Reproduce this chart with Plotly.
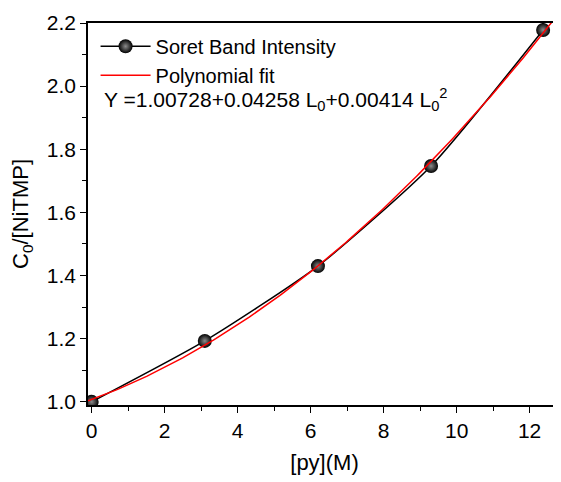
import numpy as np
import plotly.graph_objects as go

# Data
py_conc = [0.0, 3.1, 6.2, 9.3, 12.37]
soret_ratio = [1.0, 1.193, 1.43, 1.747, 2.178]

# Polynomial fit coefficients (as printed on the chart)
fit_a0, fit_a1, fit_a2 = 1.00728, 0.04258, 0.00414
fit_x = np.linspace(-0.1, 12.8, 200)
fit_y = fit_a0 + fit_a1 * fit_x + fit_a2 * fit_x ** 2

x_ticks = [0, 2, 4, 6, 8, 10, 12]
y_ticks = [1.0, 1.2, 1.4, 1.6, 1.8, 2.0, 2.2]
y_tick_text = ["1.0", "1.2", "1.4", "1.6", "1.8", "2.0", "2.2"]

FONT = "Liberation Sans, Arial, sans-serif"

fig = go.Figure()
fig.add_trace(go.Scatter(
    x=py_conc, y=soret_ratio, mode="lines+markers", name="Soret Band Intensity",
    line=dict(color="black", width=1.5, shape="spline", smoothing=0.6),
    marker=dict(size=14, color="black", gradient=dict(type="radial", color="#8c8c8c"),
                line=dict(width=0)),
))
fig.add_trace(go.Scatter(
    x=fit_x, y=fit_y, mode="lines", name="Polynomial fit",
    line=dict(color="red", width=1.5),
))

fig.add_annotation(
    text="Y =1.00728+0.04258 L<sub>0</sub>+0.00414 L<sub>0</sub><sup>2</sup>",
    xref="paper", yref="paper", x=0.03, y=0.8, xanchor="left", yanchor="middle",
    showarrow=False, font=dict(family=FONT, size=21, color="black"),
)

# page body adds an 8px offset, so the figure is 8px smaller than the window
fig.update_layout(
    width=553, height=474,
    margin=dict(l=80, r=0, t=15, b=77, autoexpand=False),
    paper_bgcolor="white", plot_bgcolor="white",
    font=dict(family=FONT, size=21, color="black"),
    showlegend=True,
    legend=dict(x=0.016, y=0.99, xanchor="left", yanchor="top",
                bgcolor="rgba(0,0,0,0)", font=dict(size=20), tracegroupgap=0,
                itemwidth=50),
    xaxis=dict(
        range=[-0.1, 12.86], tickmode="array", tickvals=x_ticks, automargin=False,
        ticks="outside", ticklen=6, tickwidth=1.2, tickcolor="black",
        minor=dict(ticks="outside", ticklen=4, dtick=1, tickcolor="black", tickwidth=1.2),
        showline=True, linecolor="black", linewidth=1.5, mirror=True,
        showgrid=False, zeroline=False,
        title=dict(text="[py](M)", font=dict(size=22), standoff=14),
        tickfont=dict(size=21),
    ),
    yaxis=dict(
        range=[0.99, 2.2], tickmode="array", tickvals=y_ticks, ticktext=y_tick_text,
        automargin=False,
        ticks="outside", ticklen=6, tickwidth=1.2, tickcolor="black",
        minor=dict(ticks="outside", ticklen=4, dtick=0.1, tickcolor="black", tickwidth=1.2),
        showline=True, linecolor="black", linewidth=1.5,
        showgrid=False, zeroline=False,
        title=dict(text="C<sub>0</sub>/[NiTMP]", font=dict(size=22), standoff=12),
        tickfont=dict(size=21),
    ),
)

fig.write_html("out.html")
